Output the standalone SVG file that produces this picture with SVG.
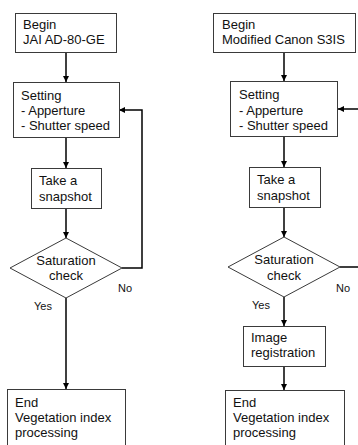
<svg xmlns="http://www.w3.org/2000/svg" width="358" height="445" viewBox="0 0 358 445">
<style>
.box{fill:#fff;stroke:#3a3a3a;stroke-width:1}
.t{font-family:"Liberation Sans",Arial,sans-serif;font-size:13px;fill:#111}
.c{text-anchor:middle}
.s{font-size:11px}
.ln{fill:none;stroke:#000;stroke-width:1.5}
</style>
<defs>
<marker id="ah" markerUnits="userSpaceOnUse" markerWidth="7" markerHeight="7" refX="6" refY="3.5" orient="auto">
<path d="M0,0.5 L6,3.5 L0,6.5 Z" fill="#000"/>
</marker>
</defs>
<rect width="358" height="445" fill="#fff"/>
<g id="connectors">
<path class="ln" d="M66,52 V82" marker-end="url(#ah)"/>
<path class="ln" d="M66,138 V168" marker-end="url(#ah)"/>
<path class="ln" d="M66,208 V238" marker-end="url(#ah)"/>
<path class="ln" d="M66,298 V389" marker-end="url(#ah)"/>
<path class="ln" d="M122,268 H142 V110 H119" marker-end="url(#ah)"/>
<path class="ln" d="M284,52 V81" marker-end="url(#ah)"/>
<path class="ln" d="M284,137 V167" marker-end="url(#ah)"/>
<path class="ln" d="M284,207 V237" marker-end="url(#ah)"/>
<path class="ln" d="M284,297 V326" marker-end="url(#ah)"/>
<path class="ln" d="M284,366 V390" marker-end="url(#ah)"/>
<path class="ln" d="M340,267 H364 V109 H338" marker-end="url(#ah)"/>
<text class="t s" x="118" y="292">No</text>
<text class="t s" x="34" y="310">Yes</text>
<text class="t s" x="336" y="292">No</text>
<text class="t s" x="252" y="309">Yes</text>
</g>
<g id="begin1">
<rect class="box" x="15.5" y="13.5" width="101" height="39"/>
<text class="t" x="23" y="29">Begin</text>
<text class="t" x="23" y="44">JAI AD-80-GE</text>
</g>
<g id="setting1">
<rect class="box" x="13.5" y="82.5" width="106" height="55"/>
<text class="t" x="21" y="100">Setting</text>
<text class="t" x="21" y="115">- Apperture</text>
<text class="t" x="21" y="130">- Shutter speed</text>
</g>
<g id="snapshot1">
<rect class="box" x="31.5" y="168.5" width="70" height="40"/>
<text class="t" x="39" y="185">Take a</text>
<text class="t" x="39" y="201">snapshot</text>
</g>
<g id="check1">
<polygon class="box" points="66,238 122,268 66,298 10,268"/>
<text class="t c" x="66" y="265">Saturation</text>
<text class="t c" x="66" y="280">check</text>
</g>
<g id="end1">
<rect class="box" x="7.5" y="389.5" width="118" height="70"/>
<text class="t" x="15" y="407">End</text>
<text class="t" x="15" y="422">Vegetation index</text>
<text class="t" x="15" y="437">processing</text>
</g>
<g id="begin2">
<rect class="box" x="213.5" y="13.5" width="142" height="39"/>
<text class="t" x="222" y="29">Begin</text>
<text class="t" x="222" y="44">Modified Canon S3IS</text>
</g>
<g id="setting2">
<rect class="box" x="230.5" y="81.5" width="107" height="55"/>
<text class="t" x="239" y="99">Setting</text>
<text class="t" x="239" y="115">- Apperture</text>
<text class="t" x="239" y="130">- Shutter speed</text>
</g>
<g id="snapshot2">
<rect class="box" x="249.5" y="167.5" width="71" height="40"/>
<text class="t" x="257" y="184">Take a</text>
<text class="t" x="257" y="200">snapshot</text>
</g>
<g id="check2">
<polygon class="box" points="284,237 340,267 284,297 228,267"/>
<text class="t c" x="284" y="264">Saturation</text>
<text class="t c" x="284" y="280">check</text>
</g>
<g id="registration2">
<rect class="box" x="243.5" y="326.5" width="82" height="40"/>
<text class="t" x="251" y="342">Image</text>
<text class="t" x="251" y="357">registration</text>
</g>
<g id="end2">
<rect class="box" x="225.5" y="390.5" width="119" height="70"/>
<text class="t" x="233" y="407">End</text>
<text class="t" x="233" y="422">Vegetation index</text>
<text class="t" x="233" y="437">processing</text>
</g>
</svg>
